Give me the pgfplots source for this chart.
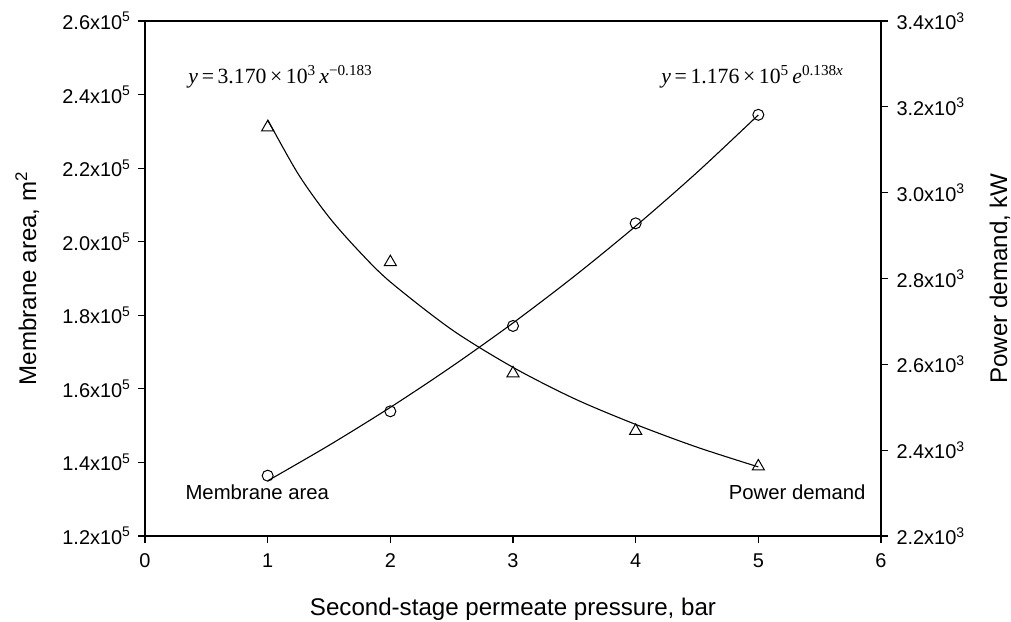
\documentclass[border=0pt]{standalone}
\usepackage{pgfplots}
\pgfplotsset{compat=1.18}
\usepackage{fontspec}
\setmainfont{Liberation Sans}
\newfontfamily\tms{Liberation Serif}

\begin{document}
\begin{tikzpicture}
\useasboundingbox (-145bp,-86bp) rectangle (866bp,536bp);

\pgfplotsset{
  every axis/.append style={
    scale only axis, width=736bp, height=515bp,
    at={(0,0)}, anchor=south west,
    scaled ticks=false,
    axis line style={line width=1.2bp},
    tick style={line width=1.1bp, black},
    tick align=outside, major tick length=7bp,
    tick label style={font=\fontsize{20}{22}\selectfont},
    label style={font=\fontsize{24.2}{26}\selectfont},
  }
}

% membrane area, left axis
\begin{axis}[
    xmin=0, xmax=6, ymin=120000, ymax=260000,
    xtick={0,1,2,3,4,5,6},
    xticklabels={0,1,2,3,4,5,6},
    xtick pos=left, ytick pos=left,
    xticklabel style={yshift=-7bp},
    yticklabel style={xshift=-4bp},
    ytick={120000,140000,160000,180000,200000,220000,240000,260000},
    yticklabels={1.2x10\textsuperscript{5},1.4x10\textsuperscript{5},1.6x10\textsuperscript{5},1.8x10\textsuperscript{5},2.0x10\textsuperscript{5},2.2x10\textsuperscript{5},2.4x10\textsuperscript{5},2.6x10\textsuperscript{5}},
    xlabel={Second-stage permeate pressure, bar},
    ylabel={Membrane area, m\textsuperscript{2}},
    xlabel style={at={(axis description cs:0.5,-0.155)}, anchor=base},
    ylabel style={at={(axis description cs:-0.160,0.5)}, anchor=center, rotate=0},
    clip=false,
]
  % fitted curve y = 1.176e5 exp(0.138x)
  \addplot[black, line width=1.1bp, smooth, no marks] coordinates {
    (1,135000) (1.5,144650) (2,154970) (2.5,166050) (3,177910)
    (3.5,190620) (4,204240) (4.5,218830) (5,234460)};
  % data
  \addplot[black, only marks, mark=o, mark size=5.5bp, mark options={line width=1bp}] coordinates {
    (1,136400) (2,153900) (3,177100) (4,205000) (5,234500)};

  \node[anchor=base west, font=\fontsize{20.4}{22}\selectfont] at (axis description cs:0.0503,0.0718) {Membrane area};
  \node[anchor=base east, font=\fontsize{20.4}{22}\selectfont] at (axis description cs:0.9837,0.0718) {Power demand};
  \node[anchor=base west, font=\tms\fontsize{21.8}{24}\selectfont] at (axis description cs:0.0543,0.8796)
    {\textit{y}\,=\,3.170\,×\,10\textsuperscript{3}\,\textit{x}\textsuperscript{−0.183}};
  \node[anchor=base east, font=\tms\fontsize{21.8}{24}\selectfont] at (axis description cs:0.9538,0.8796)
    {\textit{y}\,=\,1.176\,×\,10\textsuperscript{5}\,\textit{e}\textsuperscript{0.138\textit{x}}};
\end{axis}

% power demand, right axis
\begin{axis}[
    xmin=0, xmax=6, ymin=2200, ymax=3400,
    axis x line=none, axis y line*=right,
    ytick pos=right,
    yticklabel style={xshift=5bp},
    ytick={2200,2400,2600,2800,3000,3200,3400},
    yticklabels={2.2x10\textsuperscript{3},2.4x10\textsuperscript{3},2.6x10\textsuperscript{3},2.8x10\textsuperscript{3},3.0x10\textsuperscript{3},3.2x10\textsuperscript{3},3.4x10\textsuperscript{3}},
    ylabel={Power demand, kW},
    ylabel style={at={(axis description cs:1.1617,0.5)}, anchor=center, rotate=0},
    clip=false,
]
  % fitted curve y = 3.170e3 x^-0.183
  \addplot[black, line width=1.1bp, smooth, no marks] coordinates {
    (1,3170) (1.25,3043) (1.5,2943) (1.75,2862) (2,2792) (2.5,2681)
    (3,2593) (3.5,2520) (4,2460) (4.5,2407) (5,2361)};
  % data
  \addplot[black, only marks, mark=triangle, mark size=7bp, mark options={line width=1bp}] coordinates {
    (1,3152) (2,2838) (3,2579) (4,2445) (5,2362)};
\end{axis}
\end{tikzpicture}
\end{document}
